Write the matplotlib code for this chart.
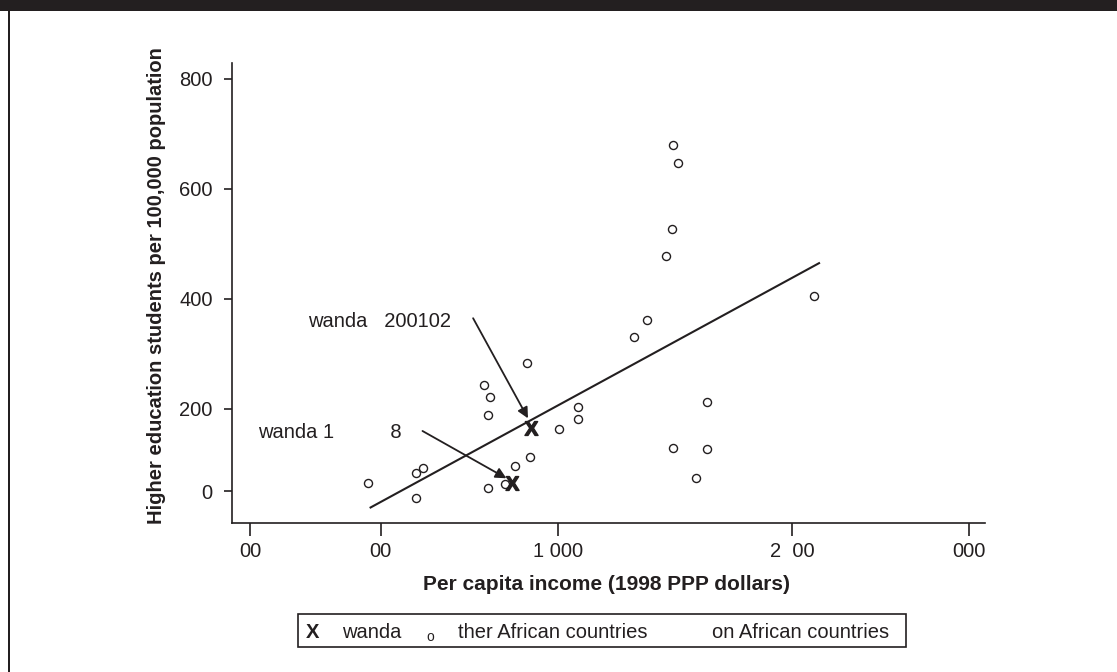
import matplotlib
matplotlib.use('Agg')
import matplotlib.pyplot as plt
from matplotlib.patches import Rectangle

plt.rcParams['font.family'] = ['Liberation Sans', 'DejaVu Sans']
plt.rcParams['mathtext.fontset'] = 'custom'
plt.rcParams['mathtext.bf'] = 'Liberation Sans:bold'

INK = '#231f20'

# other African countries: income (1998 PPP $), students per 100,000
other_income = [476, 575, 590, 575, 749, 768, 761, 885, 1083, 1083, 1005, 896, 845,
                761, 813, 1571, 1602, 1565, 1525, 2728, 1417, 1347, 1794, 1571, 1790, 1717]
other_students = [66, 84, 92, 39, 244, 221, 189, 283, 203, 182, 163, 113, 97,
                  56, 63, 680, 648, 527, 479, 406, 361, 331, 212, 129, 127, 74]

# Rwanda, two years
rwanda_income = [836, 902]
rwanda_students = [66, 165]

# fitted line end points
fit_income = [479, 2790]
fit_students = [20, 466]

x_ticks = [300, 500, 1000, 2500, 5000]
x_tick_labels = ['00', '00', '1 000', '2  00', '000']
y_ticks = [50, 200, 400, 600, 800]
y_tick_labels = ['0', '200', '400', '600', '800']

note_labels = ['wanda   200102', 'wanda 1' + ' ' * 10 + '8']
note_text_xy = [(375.7, 348.5), (309.0, 146.7)]
arrow_from = [(718, 365), (589, 160)]
arrow_to = [(890, 183), (818, 74)]


def draw_chart():
	fig = plt.figure(figsize=(11.17, 6.72), dpi=100)
	ax = fig.add_axes([232 / 1117, 1 - 523 / 672, 753 / 1117, 460 / 672])

	ax.plot(fit_income, fit_students, color=INK, lw=1.5, solid_capstyle='butt')
	ax.plot(other_income, other_students, 'o', ms=5.8, mfc='none', mec=INK, mew=1.0)
	ax.plot(rwanda_income, rwanda_students, ls='none', marker=r'$\mathbf{X}$',
			ms=10, color=INK)

	for label, xy in zip(note_labels, note_text_xy):
		ax.text(xy[0], xy[1], label, fontsize=14.5, color=INK, ha='left', va='baseline')
	for start, end in zip(arrow_from, arrow_to):
		ax.annotate('', xy=end, xytext=start,
					arrowprops=dict(arrowstyle='-|>', color=INK, lw=1.3,
									mutation_scale=16, shrinkA=0, shrinkB=0))

	ax.set_xscale('log')
	ax.set_xlim(279.5, 5322)
	ax.set_ylim(-7.3, 829)
	ax.set_xticks(x_ticks)
	ax.set_xticklabels(x_tick_labels)
	ax.minorticks_off()
	ax.set_yticks(y_ticks)
	ax.set_yticklabels(y_tick_labels)

	for side in ['top', 'right']:
		ax.spines[side].set_visible(False)
	for side in ['left', 'bottom']:
		ax.spines[side].set_linewidth(1.2)
		ax.spines[side].set_color(INK)
	ax.tick_params(axis='both', colors=INK, labelsize=14.5, width=1.2)
	ax.tick_params(axis='y', length=6, pad=8)
	ax.tick_params(axis='x', length=9, pad=5)

	ax.set_xlabel('Per capita income (1998 PPP dollars)', fontsize=15,
				  fontweight='bold', color=INK)
	ax.xaxis.set_label_coords(0.497, -0.113)
	ax.set_ylabel('Higher education students per 100,000 population', fontsize=14.5,
				  fontweight='bold', color=INK)
	ax.yaxis.set_label_coords(-0.088, 0.517)

	# page frame: dark bar on top, rule on the left
	fig.add_artist(Rectangle((0, 1 - 11 / 672), 1, 11 / 672, transform=fig.transFigure,
							 facecolor=INK, edgecolor='none'))
	fig.add_artist(Rectangle((8 / 1117, 0), 2 / 1117, 1 - 11 / 672,
							 transform=fig.transFigure, facecolor=INK, edgecolor='none'))

	# legend box
	fig.add_artist(Rectangle((298 / 1117, 1 - 647 / 672), 608 / 1117, 33 / 672,
							 transform=fig.transFigure, facecolor='white',
							 edgecolor=INK, lw=1.2))
	base = 1 - 638 / 672
	fig.text(313 / 1117, base, 'X', fontsize=14.5, fontweight='bold', color=INK,
			 ha='center', va='baseline')
	fig.text(342 / 1117, base, 'wanda', fontsize=14.5, color=INK, va='baseline')
	fig.text(430 / 1117, 1 - 641 / 672, 'o', fontsize=10, color=INK, ha='center',
			 va='baseline')
	fig.text(458 / 1117, base, 'ther African countries', fontsize=14.5, color=INK,
			 va='baseline')
	fig.text(712 / 1117, base, 'on African countries', fontsize=14.5, color=INK,
			 va='baseline')

	fig.savefig('out.png', dpi=100, facecolor='white')


def main():
	draw_chart()


if __name__ == '__main__':
	main()
